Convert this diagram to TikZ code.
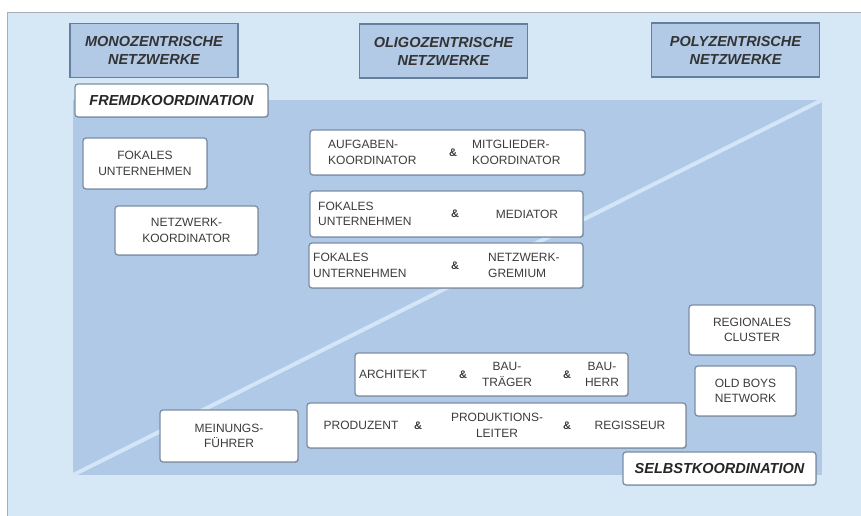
\documentclass[tikz,border=0pt]{standalone}
\usepackage{fontspec}
\setmainfont{Liberation Sans}
\usetikzlibrary{shadows}
\definecolor{panel}{HTML}{D6E7F6}
\definecolor{panelline}{HTML}{A6AEB8}
\definecolor{field}{HTML}{AFC9E6}
\definecolor{diag}{HTML}{D3E5F6}
\definecolor{hdrfill}{HTML}{B2CAE6}
\definecolor{hdrline}{HTML}{65809F}
\definecolor{boxline}{HTML}{7D8EA4}
\definecolor{ink}{HTML}{3C3C3C}
\begin{document}
\begin{tikzpicture}[x=1pt,y=-1pt,
  hdr/.style={draw=hdrline, line width=1.2pt, fill=hdrfill, minimum width=168pt,
    minimum height=54pt, inner sep=0pt, align=center,
    font=\fontsize{14.5}{18}\selectfont\bfseries\itshape, text=black!80},
  wbox/.style={draw=boxline, line width=1.3pt, fill=white, rounded corners=3pt, inner sep=0pt,
    drop shadow={shadow xshift=0.8pt, shadow yshift=-0.8pt, opacity=0.35, fill=black!60}},
  lbl/.style={align=center, font=\fontsize{12}{15.5}\selectfont, text=ink, inner sep=0pt},
  lbll/.style={lbl, align=left},
  amp/.style={font=\fontsize{11}{13}\selectfont\bfseries, text=ink, inner sep=0pt},
  tag/.style={wbox, font=\fontsize{14.5}{16}\selectfont\bfseries\itshape, text=black!85},
]
\useasboundingbox (0,0) rectangle (861,516);

% background panel and coordination field
\draw[panelline, line width=1pt, fill=panel] (7.5,12.5) rectangle (875,530);
\coordinate (fieldNW) at (73,100);
\coordinate (fieldSE) at (822,475);
\coordinate (fieldSW) at (73,475);
\coordinate (fieldNE) at (822,100);
\fill[field] (fieldNW) rectangle (fieldSE);
\begin{scope}
  \clip (fieldNW) rectangle (fieldSE);
  \draw[diag, line width=4pt] (fieldSW) -- (fieldNE);
\end{scope}

% column headers
\node[hdr] (mono) at (154,50.5) {MONOZENTRISCHE\\NETZWERKE};
\node[hdr] (oligo) at (443.5,51) {OLIGOZENTRISCHE\\NETZWERKE};
\node[hdr] (poly) at (735.5,50) {POLYZENTRISCHE\\NETZWERKE};

% coordination tags
\node[tag, minimum width=193pt, minimum height=33pt] (fremd) at (171.5,100.5) {FREMDKOORDINATION};
\node[tag, minimum width=193pt, minimum height=33pt] (selbst) at (719.5,468.5) {SELBSTKOORDINATION};

% monocentric actors
\node[wbox, minimum width=124pt, minimum height=51pt] (fok) at (145,163.5) {};
\node[lbl] (fokt) at (fok) {FOKALES\\UNTERNEHMEN};
\node[wbox, minimum width=143pt, minimum height=49pt] (nwk) at (186.5,230.5) {};
\node[lbl] (nwkt) at (nwk) {NETZWERK-\\KOORDINATOR};
\node[wbox, minimum width=138pt, minimum height=52pt] (mein) at (229,436) {};
\node[lbl] (meint) at (mein) {MEINUNGS-\\FÜHRER};

% oligocentric pairs
\node[wbox, minimum width=275pt, minimum height=45pt] (aufg) at (447.5,152.5) {};
\node[lbll, anchor=west] (aufgA) at (328,152.5) {AUFGABEN-\\KOORDINATOR};
\node[amp] (aufgU) at (453,152.5) {\&};
\node[lbll, anchor=west] (aufgB) at (472,152.5) {MITGLIEDER-\\KOORDINATOR};

\node[wbox, minimum width=273pt, minimum height=46pt] (med) at (446.5,214) {};
\node[lbll, anchor=west] (medA) at (318,214) {FOKALES\\UNTERNEHMEN};
\node[amp] (medU) at (455,214) {\&};
\node[lbl] (medB) at (527,214) {MEDIATOR};

\node[wbox, minimum width=274pt, minimum height=45pt] (grem) at (446,265.5) {};
\node[lbll, anchor=west] (gremA) at (313,265.5) {FOKALES\\UNTERNEHMEN};
\node[amp] (gremU) at (455,265.5) {\&};
\node[lbll, anchor=west] (gremB) at (488,265.5) {NETZWERK-\\GREMIUM};

% triads
\node[wbox, minimum width=273pt, minimum height=43pt] (bau) at (491.5,374.5) {};
\node[lbl] (bauA) at (393,374.5) {ARCHITEKT};
\node[amp] (bauU) at (463,374.5) {\&};
\node[lbl] (bauB) at (507,374.5) {BAU-\\TRÄGER};
\node[amp] (bauV) at (567,374.5) {\&};
\node[lbl] (bauC) at (602,374.5) {BAU-\\HERR};

\node[wbox, minimum width=379pt, minimum height=45pt] (film) at (496.5,425.5) {};
\node[lbl] (filmA) at (361,425.5) {PRODUZENT};
\node[amp] (filmU) at (418,425.5) {\&};
\node[lbl] (filmB) at (497,425.5) {PRODUKTIONS-\\LEITER};
\node[amp] (filmV) at (567,425.5) {\&};
\node[lbl] (filmC) at (630,425.5) {REGISSEUR};

% polycentric forms
\node[wbox, minimum width=126pt, minimum height=50pt] (reg) at (752,330) {};
\node[lbl] (regt) at (reg) {REGIONALES\\CLUSTER};
\node[wbox, minimum width=101pt, minimum height=50pt] (obn) at (745.5,391) {};
\node[lbl] (obnt) at (obn) {OLD BOYS\\NETWORK};
\end{tikzpicture}
\end{document}
